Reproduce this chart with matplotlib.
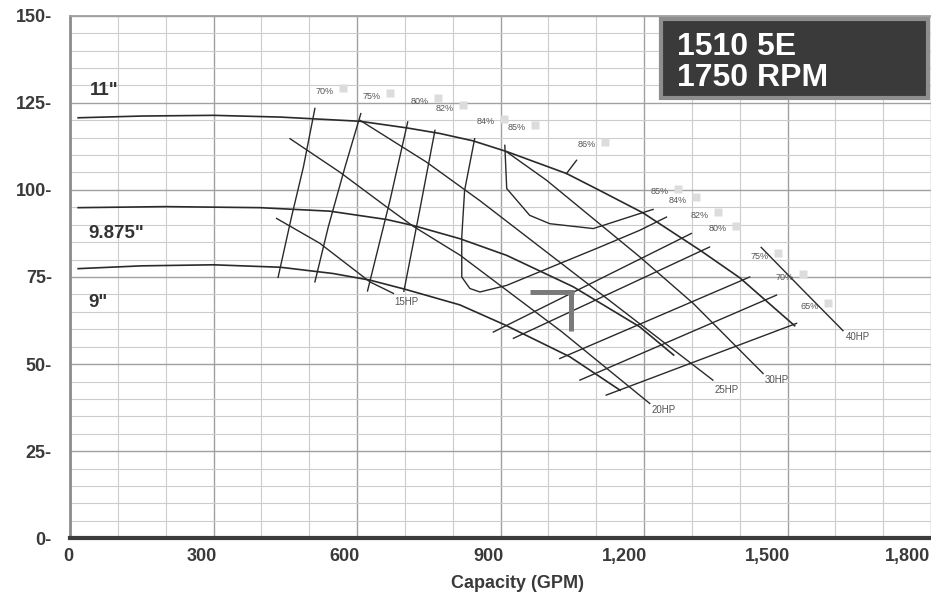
import numpy as np
import matplotlib
matplotlib.use('Agg')
import matplotlib.pyplot as plt
from matplotlib.patches import Rectangle
from matplotlib.transforms import ScaledTranslation, offset_copy

plt.rcParams['font.family'] = ['Liberation Sans', 'DejaVu Sans']

# head-capacity curves for each impeller diameter (GPM, ft)
q_11 = [17, 150, 300, 440, 606, 704, 773, 842, 913, 1038, 1108, 1198, 1317, 1400, 1515]
h_11 = [120.7, 121.2, 121.4, 120.9, 119.7, 117.8, 116.2, 114.1, 111.0, 104.7, 99.8, 93.4, 82.7, 74.8, 61.0]
q_9875 = [17, 200, 397, 543, 662, 717, 815, 913, 1052, 1191, 1262]
h_9875 = [94.9, 95.2, 94.9, 93.9, 91.5, 89.8, 86.0, 81.2, 72.2, 60.7, 52.6]
q_9 = [17, 150, 300, 440, 550, 627, 700, 815, 910, 1045, 1150]
h_9 = [77.4, 78.2, 78.5, 77.8, 76.0, 74.1, 71.5, 67.0, 61.2, 52.1, 42.5]

# horsepower lines
q_15hp = [432, 522, 627, 676]
h_15hp = [91.8, 84.7, 73.6, 70.3]
q_20hp = [460, 564, 662, 717, 815, 1028, 1212]
h_20hp = [114.7, 105.1, 95.1, 89.6, 81.3, 59.3, 38.7]
q_25hp = [606, 745, 857, 1100, 1344]
h_25hp = [120.0, 108.0, 96.9, 71.2, 45.4]
q_30hp = [913, 996, 1191, 1303, 1449]
h_30hp = [110.9, 102.8, 80.8, 67.4, 47.3]
q_40hp = [1445, 1529, 1616]
h_40hp = [83.5, 71.7, 59.6]

# efficiency lines, left of best efficiency point
q_e70a = [512, 488, 463, 435]
h_e70a = [123.4, 106.6, 92.2, 74.9]
q_e75a = [608, 575, 540, 512]
h_e75a = [121.9, 106.6, 89.4, 73.6]
q_e80a = [706, 669, 622]
h_e80a = [119.5, 97.0, 71.0]
q_e82a = [763, 731, 698]
h_e82a = [117.1, 94.1, 70.9]
q_e84 = [846, 825, 819, 819, 836, 857, 913, 982, 1108, 1191, 1247]
h_e84 = [114.7, 99.9, 86.5, 75.0, 71.7, 70.7, 72.6, 76.5, 83.6, 88.4, 92.2]
q_e85 = [909, 913, 961, 1003, 1094, 1191, 1219]
h_e85 = [112.8, 100.4, 92.7, 90.3, 88.9, 93.2, 94.4]
q_e86 = [1038, 1059]
h_e86 = [104.7, 108.5]
# efficiency lines, right of best efficiency point
q_e82b = [885, 1299]
h_e82b = [59.2, 87.5]
q_e80b = [927, 1337]
h_e80b = [57.4, 83.6]
q_e75b = [1024, 1421]
h_e75b = [51.6, 75.0]
q_e70b = [1066, 1477]
h_e70b = [45.4, 69.8]
q_e65b = [1121, 1519]
h_e65b = [41.1, 61.7]

# labels
pct_top = ['70%', '75%', '80%', '82%', '84%', '85%', '86%']
pct_top_q = [533, 631, 731, 784, 869, 934, 1080]
pct_top_h = [128.3, 126.9, 125.5, 123.5, 119.5, 117.8, 112.9]
pct_right = ['85%', '84%', '82%', '80%', '75%', '70%', '65%']
pct_right_q = [1233, 1271, 1317, 1355, 1442, 1494, 1547]
pct_right_h = [99.4, 97.0, 92.7, 88.9, 80.9, 74.9, 66.6]
hp_names = ['15HP', '20HP', '25HP', '30HP', '40HP']
hp_q = [704, 1240, 1372, 1477, 1647]
hp_h = [67.9, 36.8, 42.5, 45.4, 57.8]
dia_names = ['11"', '9.875"', '9"']
dia_q = [42, 38, 38]
dia_h = [128.6, 87.5, 67.8]

duty_q, duty_h = 1048, 70.6

x_ticks = [0, 300, 600, 900, 1200, 1500, 1800]
x_labels = ['0', '300', '600', '900', '1,200', '1,500', '1,800']
y_ticks = [0, 25, 50, 75, 100, 125, 150]
y_labels = ['0-', '25-', '50-', '75-', '100-', '125-', '150-']

fig = plt.figure(figsize=(9.31, 5.95), dpi=100)
ax = fig.add_axes([70 / 931, 1 - 538.3 / 595, 861 / 931, 522.6 / 595])

ink = '#2a2a2a'
for q, h in [(q_11, h_11), (q_9875, h_9875), (q_9, h_9)]:
    ax.plot(q, h, color=ink, lw=1.2)
for q, h in [(q_15hp, h_15hp), (q_20hp, h_20hp), (q_25hp, h_25hp),
             (q_30hp, h_30hp), (q_40hp, h_40hp)]:
    ax.plot(q, h, color=ink, lw=1.0)
for q, h in [(q_e70a, h_e70a), (q_e75a, h_e75a), (q_e80a, h_e80a),
             (q_e82a, h_e82a), (q_e84, h_e84), (q_e85, h_e85), (q_e86, h_e86),
             (q_e82b, h_e82b), (q_e80b, h_e80b), (q_e75b, h_e75b),
             (q_e70b, h_e70b), (q_e65b, h_e65b)]:
    ax.plot(q, h, color=ink, lw=1.0)

# duty point marker
ax.plot([duty_q - 87, duty_q + 6], [duty_h, duty_h], color='#7a7a7a', lw=3.6,
        solid_capstyle='butt')
ax.plot([duty_q, duty_q], [duty_h, duty_h - 11], color='#7a7a7a', lw=3.6,
        solid_capstyle='butt')

box_tr = offset_copy(ax.transData, fig=fig, x=18, y=3, units='dots')
for names, qs, hs in [(pct_top, pct_top_q, pct_top_h),
                      (pct_right, pct_right_q, pct_right_h)]:
    for n, q, h in zip(names, qs, hs):
        ax.text(q, h, n, fontsize=6.5, color='#555555', ha='center', va='center')
        ax.plot(q, h, marker='s', ms=5.5, color='#dcdcdc', mec='none',
                transform=box_tr)
for n, q, h in zip(hp_names, hp_q, hp_h):
    ax.text(q, h, n, fontsize=7, color='#555555', ha='center', va='center')
for n, q, h in zip(dia_names, dia_q, dia_h):
    ax.text(q, h, n, fontsize=13.5, color='#333333', fontweight='bold',
            ha='left', va='center')

ax.set_xlim(0, 1800)
ax.set_ylim(0, 150)
ax.set_xticks(x_ticks)
ax.set_xticklabels(x_labels)
ax.set_xticks(np.arange(0, 1801, 100), minor=True)
ax.set_yticks(y_ticks)
ax.set_yticklabels(y_labels)
ax.set_yticks(np.arange(0, 151, 5), minor=True)
ax.grid(which='minor', color='#cccccc', lw=0.8)
ax.grid(which='major', color='#a0a0a0', lw=1.0)
ax.set_axisbelow(True)
ax.tick_params(which='both', length=0)
ax.tick_params(axis='y', pad=13)
ax.tick_params(axis='x', pad=7)
for lbl in ax.get_xticklabels() + ax.get_yticklabels():
    lbl.set_fontsize(13)
    lbl.set_fontweight('bold')
    lbl.set_color('#3a3a3a')
xlbls = ax.get_xticklabels()
for i, lbl in enumerate(xlbls):
    lbl.set_ha('right')
    shift = 3 if i < len(xlbls) - 1 else -1
    lbl.set_transform(lbl.get_transform() + ScaledTranslation(shift / 100, 0, fig.dpi_scale_trans))

ax.set_xlabel('Capacity (GPM)', fontsize=13, fontweight='bold', color='#3a3a3a')
ax.xaxis.set_label_coords(0.52, -0.07)

ax.spines['right'].set_visible(False)
ax.spines['bottom'].set_linewidth(3)
ax.spines['bottom'].set_color('#3c3c3c')
ax.spines['left'].set_linewidth(2)
ax.spines['left'].set_color('#8c8c8c')
ax.spines['top'].set_linewidth(1.3)
ax.spines['top'].set_color('#a0a0a0')

# model box
fig.add_artist(Rectangle((661 / 931, 1 - 98 / 595), 267 / 931, 79 / 595,
                         transform=fig.transFigure, facecolor='#3a3a3a',
                         edgecolor='#8e8e8e', lw=3))
fig.text(677 / 931, 1 - 55 / 595, '1510 5E', color='white', fontsize=23,
         fontweight='bold', va='baseline', ha='left')
fig.text(677 / 931, 1 - 86.5 / 595, '1750 RPM', color='white', fontsize=23,
         fontweight='bold', va='baseline', ha='left')

fig.savefig('out.png', dpi=100)
